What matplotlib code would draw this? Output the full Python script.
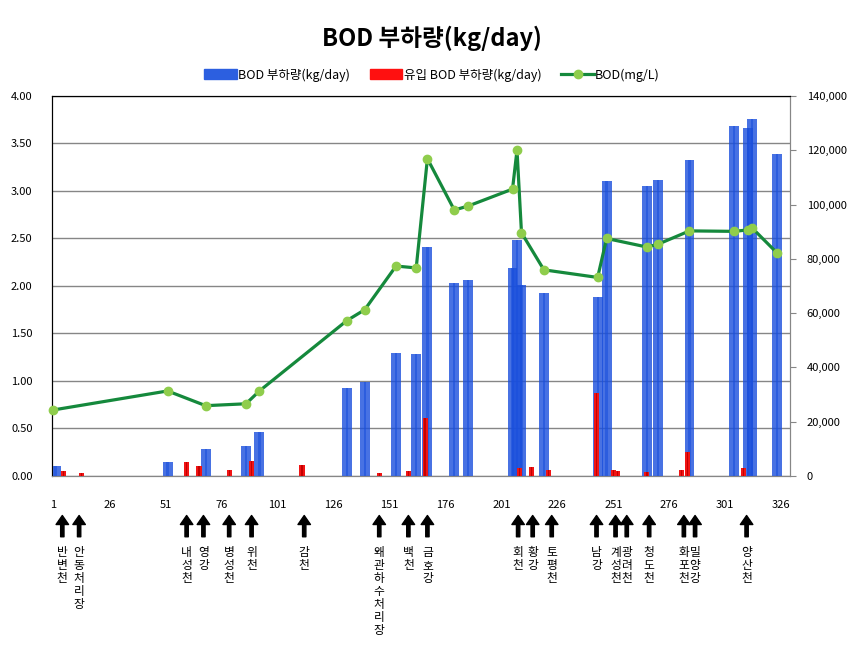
import numpy as np
import matplotlib
matplotlib.use("Agg")
import matplotlib.pyplot as plt
import matplotlib.transforms as mtransforms
from matplotlib.patches import Patch
from matplotlib.lines import Line2D

plt.rcParams['font.family'] = ['Noto Sans CJK KR', 'DejaVu Sans']

# ----------------------------------------------------------------------
# Données
# ----------------------------------------------------------------------

blue_x = [2, 52, 69, 87, 93, 132, 140, 154, 163, 168, 180, 186, 206, 208, 210,
          220, 244, 248, 266, 271, 285, 305, 311, 313, 324]
blue_v = [3700, 5150, 9850, 11050, 16200, 32300, 34600, 45200, 44800, 84300,
          71000, 72100, 76500, 86800, 70300, 67300, 65800, 108600, 106700,
          108900, 116300, 128800, 128100, 131600, 118500]

red_x = [5.5, 13.5, 60.5, 66, 79.5, 89.5, 112, 146.5, 159.5, 167, 209, 214.5,
         222, 243.5, 251, 253, 266, 281.5, 284, 309]
red_v = [1840, 1000, 5150, 3700, 2200, 5500, 3950, 1000, 1840, 21250, 2800,
         3200, 2200, 30450, 2100, 1850, 1500, 2200, 8850, 2800]

line_x = [1, 52, 69, 87, 93, 132, 140, 154, 163, 168, 180, 186, 206, 208, 210,
          220, 244, 248, 266, 271, 285, 305, 311, 313, 324]
line_v = [0.695, 0.895, 0.74, 0.76, 0.895, 1.635, 1.75, 2.21, 2.19, 3.34, 2.80,
          2.84, 3.02, 3.43, 2.56, 2.17, 2.09, 2.50, 2.41, 2.44, 2.58, 2.575,
          2.59, 2.61, 2.35]

arrow_x = [5, 12.5, 60.5, 68, 79.5, 89.5, 113, 146.5, 159.5, 168, 208.5, 215,
           223.5, 243.5, 252, 257, 267, 282.5, 287.5, 310.5]
arrow_names = ["반변천", "안동처리장", "내성천", "영강", "병성천", "위천", "감천",
               "왜관하수처리장", "백천", "금호강", "회천", "황강", "토평천", "남강",
               "계성천", "광려천", "청도천", "화포천", "밀양강", "양산천"]

x_ticks = list(range(1, 327, 25))
left_ticks = np.arange(0, 4.01, 0.5)
right_ticks = list(range(0, 140001, 20000))

BLUE = '#1a4fdc'
RED = '#f01414'
GREEN = '#15893c'
LIME = '#8fcd4c'

# ----------------------------------------------------------------------
# Figure
# ----------------------------------------------------------------------

fig = plt.figure(figsize=(8.64, 6.46), dpi=100)
ax = fig.add_axes([0.0602, 0.2632, 0.8542, 0.5882])
ax2 = ax.twinx()

ax.set_xlim(0.4, 329.9)
ax.set_ylim(0, 4)
ax2.set_ylim(0, 140000)

ax.set_yticks(left_ticks)
ax.set_yticklabels([f"{v:.2f}" for v in left_ticks], fontsize=8)
ax.tick_params(axis='y', length=0, pad=14)
ax.yaxis.grid(True, color='#868686', lw=1)
ax.set_axisbelow(True)

ax.set_xticks(x_ticks)
ax.set_xticklabels([str(v) for v in x_ticks], fontsize=8)
ax.tick_params(axis='x', length=0, pad=17)

ax2.set_yticks(right_ticks)
ax2.set_yticklabels([f"{v:,}" for v in right_ticks], fontsize=8)
ax2.tick_params(axis='y', length=4, color='#868686', pad=8)

for a in (ax, ax2):
    a.spines['left'].set_color('black')
    a.spines['top'].set_color('black')
    a.spines['bottom'].set_color('#868686')
    a.spines['right'].set_color('#868686')

# barres (axe de droite)
ax2.bar(blue_x, blue_v, width=4.4, color=BLUE, alpha=0.8, lw=0, zorder=2)
ax2.bar(blue_x, blue_v, width=1.0, color=BLUE, alpha=0.6, lw=0, zorder=2)
ax2.bar(red_x, red_v, width=2.3, color=RED, lw=0, zorder=3)
ax2.bar(red_x, red_v, width=0.6, color='#c40000', lw=0, zorder=3)

# courbe BOD (axe de gauche, dessinée au-dessus des barres)
ax2.plot(line_x, line_v, color=GREEN, lw=2.3, marker='o', ms=6,
         mfc=LIME, mec=LIME, transform=ax.transData, zorder=5, clip_on=False)

# flèches + noms des affluents
trans = mtransforms.blended_transform_factory(ax.transData, ax.transAxes)
for xa, name in zip(arrow_x, arrow_names):
    ax.annotate('', xy=(xa, -0.104), xytext=(xa, -0.16), xycoords=trans,
                textcoords=trans,
                arrowprops=dict(width=2.4, headwidth=9, headlength=6.5,
                                color='black', shrink=0))
    ax.text(xa, -0.185, '\n'.join(name), transform=trans, ha='center',
            va='top', fontsize=8.5, linespacing=1.0)

fig.text(0.5, 0.941, "BOD 부하량(kg/day)", ha='center', va='center',
         fontsize=17, fontweight='bold')

handles = [Patch(color='#2c5fe0'), Patch(color='#ff1010'),
           Line2D([], [], color=GREEN, lw=2.3, marker='o', ms=6,
                  mfc=LIME, mec=LIME)]
labels = ["BOD 부하량(kg/day)", "유입 BOD 부하량(kg/day)", "BOD(mg/L)"]
fig.legend(handles, labels, loc='center', bbox_to_anchor=(0.5, 0.884),
           ncol=3, frameon=False, fontsize=9, handlelength=2.6,
           handleheight=0.9, handletextpad=0.1, columnspacing=1.6)

fig.savefig("out.png", dpi=100)
